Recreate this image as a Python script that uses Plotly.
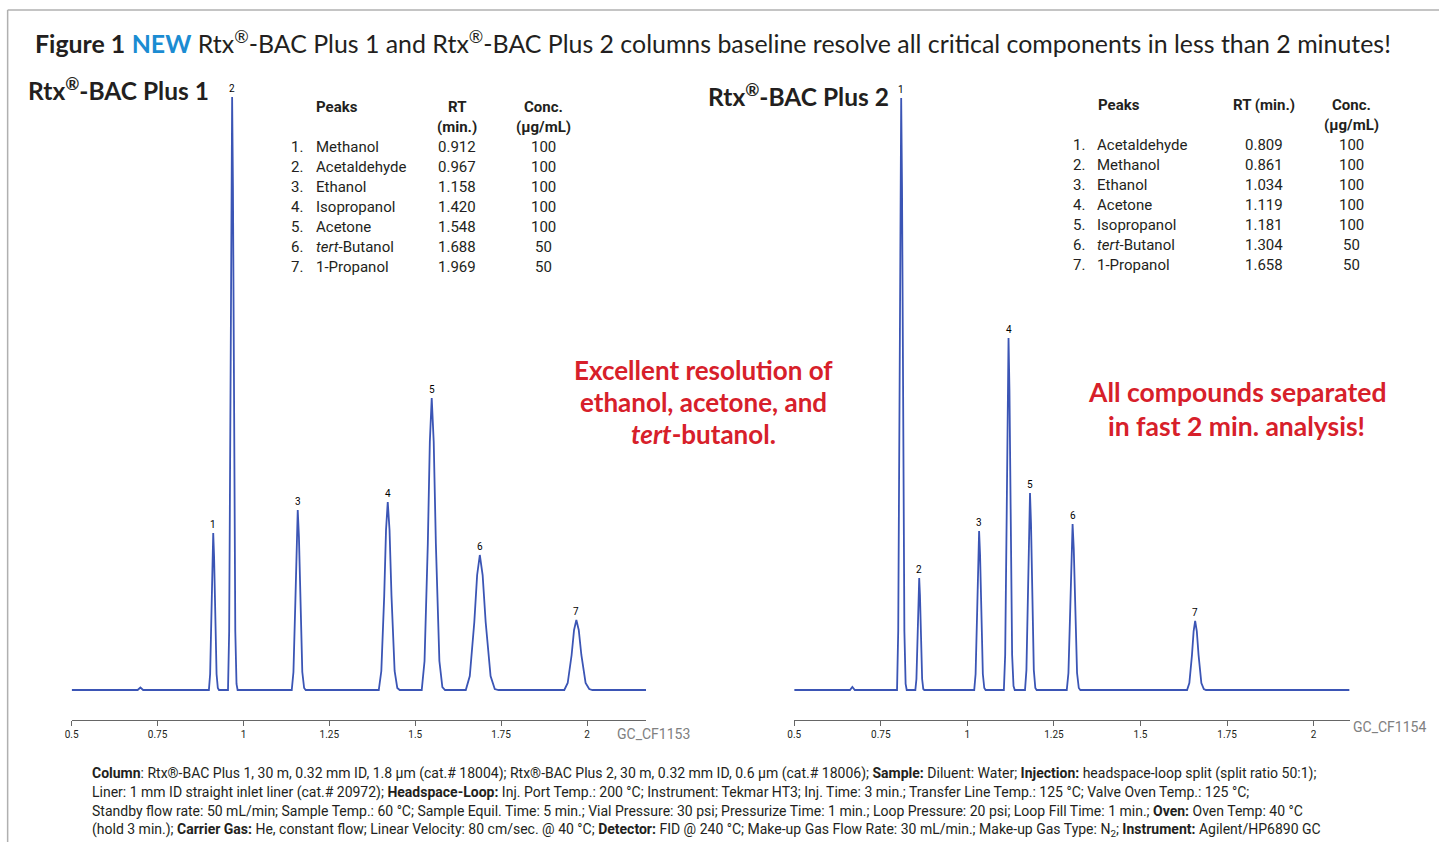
import plotly.graph_objects as go

W, H = 1439, 842

# ---------------- data ----------------
left_names = ["Methanol", "Acetaldehyde", "Ethanol", "Isopropanol", "Acetone", "<i>tert</i>-Butanol", "1-Propanol"]
left_rt = [0.912, 0.967, 1.158, 1.420, 1.548, 1.688, 1.969]
left_conc = [100, 100, 100, 100, 100, 50, 50]
left_heights = [157, 593, 180, 188, 292, 135, 70]

right_names = ["Acetaldehyde", "Methanol", "Ethanol", "Acetone", "Isopropanol", "<i>tert</i>-Butanol", "1-Propanol"]
right_rt = [0.809, 0.861, 1.034, 1.119, 1.181, 1.304, 1.658]
right_conc = [100, 100, 100, 100, 100, 50, 50]
right_heights = [592, 112, 159, 352, 197, 166, 69]

# chromatogram traces (time in min, detector signal in arbitrary units)
left_t = [0.500, 0.692, 0.700, 0.708,
          0.8994, 0.9030, 0.9070, 0.9096, 0.912, 0.9145, 0.9173, 0.9217, 0.9254, 0.9288,
          0.9550, 0.9584, 0.9623, 0.9647, 0.967, 0.9694, 0.9720, 0.9762, 0.9798, 0.9830,
          1.1406, 1.1455, 1.1512, 1.1547, 1.158, 1.1615, 1.1653, 1.1713, 1.1766, 1.1812,
          1.3939, 1.4013, 1.4097, 1.4150, 1.420, 1.4252, 1.4309, 1.4400, 1.4478, 1.4548,
          1.5189, 1.5271, 1.5366, 1.5425, 1.548, 1.5538, 1.5601, 1.5703, 1.5790, 1.5868,
          1.6472, 1.6588, 1.6720, 1.6802, 1.688, 1.6962, 1.7050, 1.7193, 1.7315, 1.7424,
          1.9339, 1.9438, 1.9552, 1.9623, 1.969, 1.9760, 1.9836, 1.9959, 2.0064, 2.0158,
          2.172]
left_y = [0, 0, 2.5, 0,
          0, 16, 79, 133, 157, 133, 79, 16, 2, 0,
          0, 59, 297, 504, 593, 504, 297, 59, 6, 0,
          0, 18, 90, 153, 180, 153, 90, 18, 2, 0,
          0, 19, 94, 160, 188, 160, 94, 19, 2, 0,
          0, 29, 146, 248, 292, 248, 146, 29, 3, 0,
          0, 14, 68, 115, 135, 115, 68, 14, 1, 0,
          0, 7, 35, 60, 70, 60, 35, 7, 1, 0,
          0]

right_t = [0.500, 0.661, 0.668, 0.675,
           0.7970, 0.8004, 0.8043, 0.8067, 0.809, 0.8114, 0.8140, 0.8182, 0.8218, 0.8250,
           0.8499, 0.8530, 0.8566, 0.8589, 0.861, 0.8632, 0.8656, 0.8695, 0.8728, 0.8758,
           1.0199, 1.0239, 1.0285, 1.0313, 1.034, 1.0368, 1.0399, 1.0448, 1.0490, 1.0528,
           1.1055, 1.1093, 1.1137, 1.1164, 1.119, 1.1217, 1.1246, 1.1294, 1.1334, 1.1370,
           1.1666, 1.1707, 1.1753, 1.1783, 1.181, 1.1839, 1.1870, 1.1920, 1.1964, 1.2002,
           1.2872, 1.2920, 1.2974, 1.3008, 1.304, 1.3074, 1.3110, 1.3169, 1.3219, 1.3264,
           1.6346, 1.6412, 1.6488, 1.6536, 1.658, 1.6627, 1.6678, 1.6759, 1.6830, 1.6892,
           2.104]
right_y = [0, 0, 3, 0,
           0, 59, 296, 503, 592, 503, 296, 59, 6, 0,
           0, 11, 56, 95, 112, 95, 56, 11, 1, 0,
           0, 16, 80, 135, 159, 135, 80, 16, 2, 0,
           0, 35, 176, 299, 352, 299, 176, 35, 4, 0,
           0, 20, 99, 167, 197, 167, 99, 20, 2, 0,
           0, 17, 83, 141, 166, 141, 83, 17, 2, 0,
           0, 7, 35, 59, 69, 59, 35, 7, 1, 0,
           0]

tick_vals = [0.5, 0.75, 1, 1.25, 1.5, 1.75, 2]
tick_text = ["0.5", "0.75", "1", "1.25", "1.5", "1.75", "2"]

# ---------------- style ----------------
LINE = "#3b55b5"
DARK = "#231f20"
RED = "#d7202a"
BLUE = "#1b8cd2"
COND = "Liberation Sans Narrow, Roboto, sans-serif"
MAIN = "Lato, Open Sans, sans-serif"


def px(x):
    # horizontal page position -> paper fraction (small correction for the page's horizontal inset)
    return (x * 1.0056 - 7.4) / W


def py(y):
    return 1 - y / H


fig = go.Figure()
fig.add_trace(go.Scatter(x=left_t, y=left_y, mode="lines", line=dict(color=LINE, width=1.8),
                         xaxis="x", yaxis="y", hoverinfo="skip", showlegend=False))
fig.add_trace(go.Scatter(x=right_t, y=right_y, mode="lines", line=dict(color=LINE, width=1.8),
                         xaxis="x2", yaxis="y2", hoverinfo="skip", showlegend=False))

axis_common = dict(showgrid=False, zeroline=False, showline=True, linecolor="#666", linewidth=1,
                   ticks="outside", ticklen=5, tickcolor="#666", tickvals=tick_vals, ticktext=tick_text,
                   tickfont=dict(family=COND, size=10, color=DARK))
yaxis_common = dict(visible=False, range=[-30, 600], domain=[py(720), py(90)])

fig.update_layout(
    width=W, height=H, margin=dict(l=0, r=0, t=0, b=0),
    paper_bgcolor="white", plot_bgcolor="white",
    xaxis=dict(domain=[px(72), px(646)], range=[0.5, 2.172], anchor="y", **axis_common),
    yaxis=dict(anchor="x", **yaxis_common),
    xaxis2=dict(domain=[px(794), px(1349)], range=[0.5, 2.104], anchor="y2", **axis_common),
    yaxis2=dict(anchor="x2", **yaxis_common),
)

ann = []


def text(x, y, t, size, color=DARK, family=MAIN, xanchor="left"):
    ann.append(dict(x=px(x), y=py(y), xref="paper", yref="paper", text=t, showarrow=False,
                    xanchor=xanchor, yanchor="middle", font=dict(family=family, size=size, color=color)))


# title
text(33, 42, "<b>Figure 1</b> <b><span style='color:%s'>NEW</span></b> Rtx<sup>®</sup>-BAC Plus 1 and "
     "Rtx<sup>®</sup>-BAC Plus 2 columns baseline resolve all critical components in less than 2 minutes!" % BLUE,
     24.9)
text(26, 89, "<b>Rtx<sup>®</sup>-BAC Plus 1</b>", 24.5)
text(706, 95, "<b>Rtx<sup>®</sup>-BAC Plus 2</b>", 24.5)

# peak labels
for i, (rt, h) in enumerate(zip(left_rt, left_heights)):
    ann.append(dict(x=rt, y=h, xref="x", yref="y", text=str(i + 1), showarrow=False, yanchor="bottom",
                    yshift=1, font=dict(family=COND, size=10, color="#000")))
for i, (rt, h) in enumerate(zip(right_rt, right_heights)):
    ann.append(dict(x=rt, y=h, xref="x2", yref="y2", text=str(i + 1), showarrow=False, yanchor="bottom",
                    yshift=1, font=dict(family=COND, size=10, color="#000")))

# left table
text(314, 107, "<b>Peaks</b>", 15, family=COND)
text(457, 107, "<b>RT</b>", 15, family=COND, xanchor="center")
text(457, 127, "<b>(min.)</b>", 15, family=COND, xanchor="center")
text(543, 107, "<b>Conc.</b>", 15, family=COND, xanchor="center")
text(543, 127, "<b>(µg/mL)</b>", 15, family=COND, xanchor="center")
for i in range(len(left_names)):
    y = 147 + 20 * i
    text(305, y, "%d." % (i + 1), 15, family=COND, xanchor="right")
    text(314, y, left_names[i], 15, family=COND)
    text(457, y, "%.3f" % left_rt[i], 15, family=COND, xanchor="center")
    text(543, y, str(left_conc[i]), 15, family=COND, xanchor="center")

# right table
text(1096, 105, "<b>Peaks</b>", 15, family=COND)
text(1263, 105, "<b>RT (min.)</b>", 15, family=COND, xanchor="center")
text(1351, 105, "<b>Conc.</b>", 15, family=COND, xanchor="center")
text(1351, 125, "<b>(µg/mL)</b>", 15, family=COND, xanchor="center")
for i in range(len(right_names)):
    y = 145 + 20 * i
    text(1087, y, "%d." % (i + 1), 15, family=COND, xanchor="right")
    text(1095, y, right_names[i], 15, family=COND)
    text(1263, y, "%.3f" % right_rt[i], 15, family=COND, xanchor="center")
    text(1351, y, str(right_conc[i]), 15, family=COND, xanchor="center")

# red call-outs
for y, t in [(370, "Excellent resolution of"), (402, "ethanol, acetone, and"), (434, "<i>tert</i>-butanol.")]:
    text(703, y, "<b>%s</b>" % t, 26, color=RED, xanchor="center")
for y, t in [(392, "All compounds separated"), (426, "in fast 2 min. analysis!")]:
    text(1236, y, "<b>%s</b>" % t, 26.5, color=RED, xanchor="center")

# figure codes
text(615, 734, "GC_CF1153", 14, color="#808080", family=COND)
text(1350, 727, "GC_CF1154", 14, color="#808080", family=COND)

# footer
footer = [
    "<b>Column</b>: Rtx®-BAC Plus 1, 30 m, 0.32 mm ID, 1.8 µm (cat.# 18004); Rtx®-BAC Plus 2, 30 m, 0.32 mm ID, "
    "0.6 µm (cat.# 18006); <b>Sample:</b> Diluent: Water; <b>Injection:</b> headspace-loop split (split ratio 50:1);",
    "Liner: 1 mm ID straight inlet liner (cat.# 20972); <b>Headspace-Loop:</b> Inj. Port Temp.: 200 °C; "
    "Instrument: Tekmar HT3; Inj. Time: 3 min.; Transfer Line Temp.: 125 °C; Valve Oven Temp.: 125 °C;",
    "Standby flow rate: 50 mL/min; Sample Temp.: 60 °C; Sample Equil. Time: 5 min.; Vial Pressure: 30 psi; "
    "Pressurize Time: 1 min.; Loop Pressure: 20 psi; Loop Fill Time: 1 min.; <b>Oven:</b> Oven Temp: 40 °C",
    "(hold 3 min.); <b>Carrier Gas:</b> He, constant flow; Linear Velocity: 80 cm/sec. @ 40 °C; "
    "<b>Detector:</b> FID @ 240 °C; Make-up Gas Flow Rate: 30 mL/min.; Make-up Gas Type: N<sub>2</sub>; "
    "<b>Instrument:</b> Agilent/HP6890 GC",
]
for i, t in enumerate(footer):
    text(90, 773 + 19 * i, t, 14, family=COND)

fig.update_layout(annotations=ann)
# frame: top and left borders (the right and bottom ones fall outside the picture)
fig.add_shape(type="line", xref="paper", yref="paper", x0=px(8), y0=py(10), x1=1, y1=py(10),
              line=dict(color="#b0b0b0", width=1.5), layer="below")
fig.add_shape(type="line", xref="paper", yref="paper", x0=px(8), y0=py(10), x1=px(8), y1=0,
              line=dict(color="#b0b0b0", width=1.5), layer="below")

fig.write_html("out.html", config={"displayModeBar": False},
               post_script="document.body.style.margin='0';document.body.style.overflow='hidden';")
